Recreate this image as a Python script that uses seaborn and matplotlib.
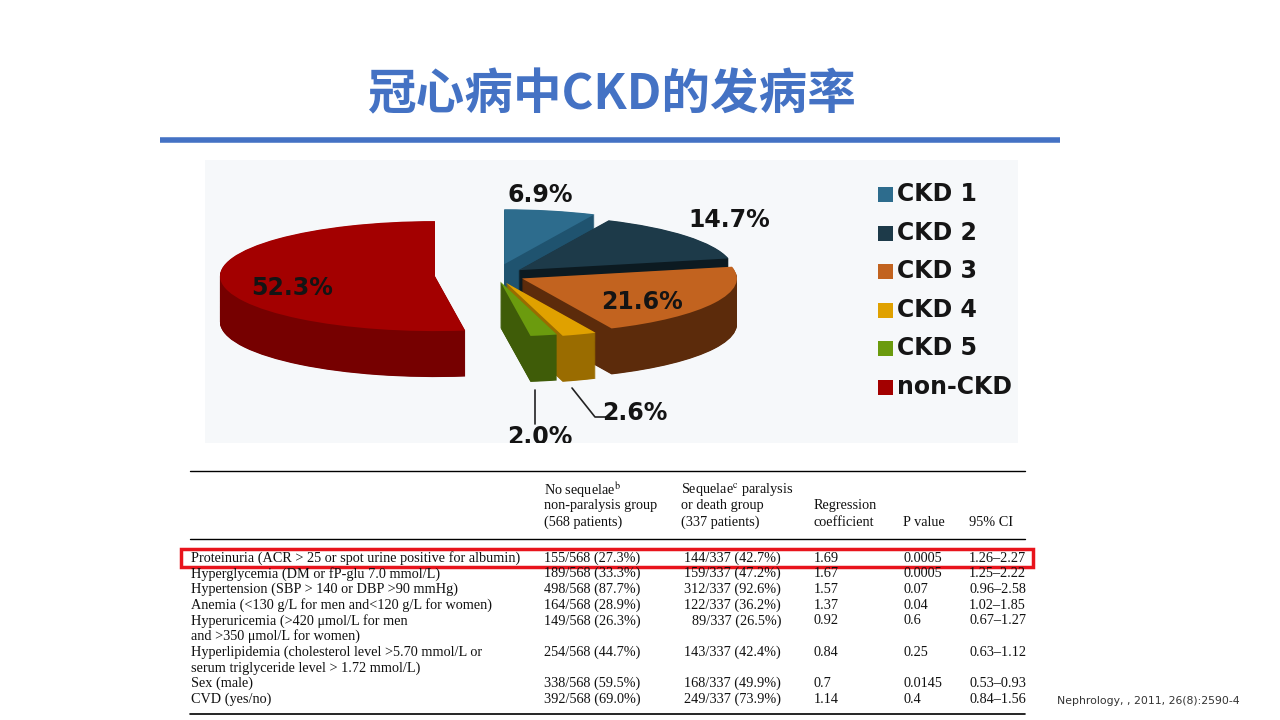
import numpy as np
import pandas as pd
import matplotlib
matplotlib.use("Agg")
import matplotlib.pyplot as plt
from matplotlib.patches import Rectangle
import seaborn as sns

# ---- data -------------------------------------------------------------
stages = ["CKD 1", "CKD 2", "CKD 3", "CKD 4", "CKD 5", "non-CKD"]
shares = [6.9, 14.7, 21.6, 2.6, 2.0, 52.3]
share_labels = ["6.9%", "14.7%", "21.6%", "2.6%", "2.0%", "52.3%"]

title = "冠心病中CKD的发病率"
source = "Nephrology, , 2011, 26(8):2590-4"

header_cols = [
    ["No sequelae$^{\\mathrm{b}}$", "non-paralysis group", "(568 patients)"],
    ["Sequelae$^{\\mathrm{c}}$ paralysis", "or death group", "(337 patients)"],
    ["Regression", "coefficient"],
    ["P value"],
    ["95% CI"],
]
factors = [
    "Proteinuria (ACR > 25 or spot urine positive for albumin)",
    "Hyperglycemia (DM or fP-glu 7.0 mmol/L)",
    "Hypertension (SBP > 140 or DBP >90 mmHg)",
    "Anemia (<130 g/L for men and<120 g/L for women)",
    "Hyperuricemia (>420 μmol/L for men\nand >350 μmol/L for women)",
    "Hyperlipidemia (cholesterol level >5.70 mmol/L or\nserum triglyceride level > 1.72 mmol/L)",
    "Sex (male)",
    "CVD (yes/no)",
]
no_sequelae = ["155/568 (27.3%)", "189/568 (33.3%)", "498/568 (87.7%)", "164/568 (28.9%)",
               "149/568 (26.3%)", "254/568 (44.7%)", "338/568 (59.5%)", "392/568 (69.0%)"]
sequelae = ["144/337 (42.7%)", "159/337 (47.2%)", "312/337 (92.6%)", "122/337 (36.2%)",
            "89/337 (26.5%)", "143/337 (42.4%)", "168/337 (49.9%)", "249/337 (73.9%)"]
coef = ["1.69", "1.67", "1.57", "1.37", "0.92", "0.84", "0.7", "1.14"]
p_value = ["0.0005", "0.0005", "0.07", "0.04", "0.6", "0.25", "0.0145", "0.4"]
ci95 = ["1.26–2.27", "1.25–2.22", "0.96–2.58", "1.02–1.85", "0.67–1.27",
        "0.63–1.12", "0.53–0.93", "0.84–1.56"]

# ---- style ------------------------------------------------------------
sns.set_theme(style="white")
plt.rcParams["font.family"] = ["DejaVu Sans", "Noto Sans CJK SC"]
plt.rcParams["mathtext.fontset"] = "stix"

top_colors = sns.color_palette(["#2d6c8d", "#1d3a49", "#c2631f", "#e0a100", "#6b9b0e", "#a30000"])
side_colors = sns.color_palette(["#1f536f", "#0c1a21", "#5c2b0b", "#9a6c00", "#3f5c08", "#760000"])
explode = [0.2, 0.14, 0.14, 0.15, 0.12, 0.28]

fig = plt.figure(figsize=(12.8, 7.2), dpi=100)
page = fig.add_axes([0, 0, 1, 1])
page.set_xlim(0, 1280)
page.set_ylim(720, 0)
page.axis("off")

# title + rule
page.text(611, 95, title, ha="center", va="center", fontsize=35, fontweight="heavy",
          color="#4472c4", family=["Noto Sans CJK SC", "DejaVu Sans"])
page.plot([160, 1060], [140, 140], color="#4472c4", lw=4, solid_capstyle="butt")

# pie image background
page.add_patch(Rectangle((205, 160), 813, 283, facecolor="#f6f8fa", edgecolor="none"))

# ---- exploded pseudo-3D pie -------------------------------------------
cx, cy, rx, ry = 495, 275, 215, 55
ax = fig.add_axes([205 / 1280, 1 - 443 / 720, 813 / 1280, 283 / 720])
depth = 46 / ry
for off in np.linspace(depth, 0.01, 90):
    ax.pie(shares, explode=explode, colors=side_colors, startangle=90, counterclock=False,
           center=(0, -off), wedgeprops=dict(linewidth=0.6, edgecolor="none"))
tops, _ = ax.pie(shares, explode=explode, colors=top_colors, startangle=90, counterclock=False,
                 wedgeprops=dict(linewidth=0))
ax.set_xlim((205 - cx) / rx, (1018 - cx) / rx)
ax.set_ylim((cy - 443) / ry, (cy - 160) / ry)
ax.set_aspect("auto")
ax.axis("off")


def to_data(px, py):
    return (px - cx) / rx, (cy - py) / ry


label_px = [(540, 195), (729, 220), (642, 302), (635, 413), (540, 437), (292, 288)]
for lab, (px, py) in zip(share_labels, label_px):
    ax.text(*to_data(px, py), lab, ha="center", va="center", fontsize=17,
            fontweight="bold", color="#141414", clip_on=True)

# leader lines for the small slices
ax.plot(*zip(to_data(572, 388), to_data(595, 417), to_data(606, 417)), color="#222222", lw=1.2)
ax.plot(*zip(to_data(535, 390), to_data(535, 424)), color="#222222", lw=1.2)

# legend
for i, (name, col) in enumerate(zip(stages, top_colors)):
    y = 194 + 38.6 * i
    page.add_patch(Rectangle((878, y - 7), 15, 15, facecolor=col, edgecolor="none"))
    page.text(897, y, name, ha="left", va="center", fontsize=17, fontweight="bold",
              color="#151515")

# ---- table ------------------------------------------------------------
serif = "Liberation Serif"
fs = 10.3
page.plot([190, 1025], [471, 471], color="black", lw=1)
page.plot([190, 1025], [539, 539], color="black", lw=1)
page.plot([190, 1025], [714, 714], color="black", lw=1.2)

head_x = [544, 681, 814, 903, 969]
for x, lines in zip(head_x, header_cols):
    for j, line in enumerate(lines):
        y = 522 - 16 * (len(lines) - 1 - j)
        page.text(x, y, line, ha="left", va="center", fontsize=fs, family=serif, color="#111111")

pitch = 15.7
line_idx = np.cumsum([0] + [f.count("\n") + 1 for f in factors[:-1]])
table = pd.DataFrame({"factor": factors, "no": no_sequelae, "yes": sequelae,
                      "coef": coef, "p": p_value, "ci": ci95, "line": line_idx})
for _, row in table.iterrows():
    y0 = 558 + pitch * row["line"]
    for j, part in enumerate(row["factor"].split("\n")):
        page.text(191, y0 + pitch * j, part, ha="left", va="center", fontsize=fs,
                  family=serif, color="#111111")
    page.text(544, y0, row["no"], ha="left", va="center", fontsize=fs, family=serif, color="#111111")
    page.text(781, y0, row["yes"], ha="right", va="center", fontsize=fs, family=serif, color="#111111")
    page.text(814, y0, row["coef"], ha="left", va="center", fontsize=fs, family=serif, color="#111111")
    page.text(903, y0, row["p"], ha="left", va="center", fontsize=fs, family=serif, color="#111111")
    page.text(969, y0, row["ci"], ha="left", va="center", fontsize=fs, family=serif, color="#111111")

# highlight box round the proteinuria row
page.add_patch(Rectangle((181, 549), 852, 18, facecolor="none", edgecolor="#e8141c", lw=2.5))

page.text(1057, 701, source, ha="left", va="center", fontsize=7.8, color="#333333")

fig.savefig("out.png", dpi=100)
